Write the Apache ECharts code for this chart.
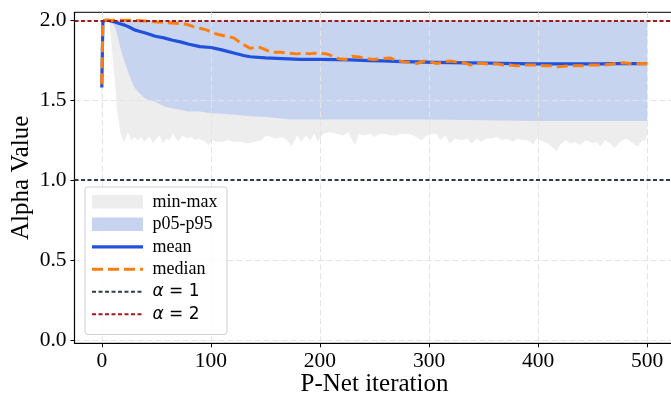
<!DOCTYPE html>
<html>
<head>
<meta charset="utf-8">
<script src="https://cdn.jsdelivr.net/npm/echarts@6/dist/echarts.min.js"></script>
<style>
html,body{margin:0;padding:0;background:#fff;}
#chart{width:671px;height:397px;}
</style>
</head>
<body>
<div id="chart"></div>
<script>
// ---------- data ----------
var minIter = [0,1,4,7,9,12,14,17,20,22,24,27,30,33,36,39,42,44,47,50,53,56,59,62,65,68,70,74,78,82,86,88,92,95,98,101,105,110,115,122,128,134,140,146,151,155,160,165,170,174,179,183,187,191,195,198,203,209,215,221,226,232,236,240,246,250,255,260,265,269,275,281,286,290,293,298,302,307,310,315,319,324,330,335,339,344,348,352,357,362,367,371,377,381,386,390,393,395,399,405,409,414,417,420,425,429,434,438,444,450,453,457,461,466,470,475,481,487,491,496,498,500];
var minVal  = [1.27,1.99,1.99,1.98,1.85,1.62,1.44,1.30,1.24,1.26,1.30,1.25,1.27,1.25,1.27,1.24,1.26,1.27,1.23,1.26,1.28,1.23,1.26,1.25,1.29,1.26,1.24,1.28,1.26,1.27,1.25,1.26,1.25,1.24,1.22,1.25,1.24,1.24,1.25,1.24,1.24,1.23,1.24,1.25,1.28,1.27,1.26,1.27,1.25,1.21,1.28,1.24,1.28,1.25,1.29,1.24,1.29,1.30,1.29,1.28,1.30,1.22,1.29,1.28,1.29,1.27,1.29,1.29,1.28,1.28,1.29,1.29,1.28,1.26,1.25,1.28,1.29,1.29,1.25,1.28,1.23,1.26,1.25,1.26,1.23,1.26,1.24,1.26,1.26,1.27,1.25,1.26,1.24,1.26,1.25,1.25,1.24,1.22,1.26,1.24,1.23,1.20,1.18,1.22,1.25,1.23,1.24,1.22,1.25,1.23,1.24,1.21,1.25,1.23,1.20,1.24,1.26,1.23,1.21,1.25,1.24,1.30];
var maxVal  = [1.90,2.0,2.0,2.0,2.0,2.0,2.0,2.0,2.0,2.0,2.0,2.0,2.0,2.0,2.0,2.0,2.0,2.0,2.0,2.0,2.0,2.0,2.0,2.0,2.0,2.0,2.0,2.0,2.0,2.0,2.0,2.0,2.0,2.0,2.0,2.0,2.0,2.0,2.0,2.0,2.0,2.0,2.0,2.0,2.0,2.0,2.0,2.0,2.0,2.0,2.0,2.0,2.0,2.0,2.0,2.0,2.0,2.0,2.0,2.0,2.0,2.0,2.0,2.0,2.0,2.0,2.0,2.0,2.0,2.0,2.0,2.0,2.0,2.0,2.0,2.0,2.0,2.0,2.0,2.0,2.0,2.0,2.0,2.0,2.0,2.0,2.0,2.0,2.0,2.0,2.0,2.0,2.0,2.0,2.0,2.0,2.0,2.0,2.0,2.0,2.0,2.0,2.0,2.0,2.0,2.0,2.0,2.0,2.0,2.0,2.0,2.0,2.0,2.0,2.0,2.0,2.0,2.0,2.0,2.0,2.0,2.0];

var pIter  = [0,1,6,9,12,15,17,19,21,24,27,30,35,40,44,49,52,58,64,72,79,90,98,110,122,136,150,173,200,246,300,350,400,450,500];
var p05Val = [1.44,1.995,1.995,1.99,1.96,1.89,1.83,1.78,1.74,1.68,1.625,1.58,1.54,1.51,1.50,1.49,1.48,1.46,1.45,1.44,1.43,1.43,1.42,1.415,1.41,1.40,1.395,1.38,1.38,1.38,1.38,1.375,1.37,1.37,1.37];
var p95Val = [1.75,2.0,2.0,2.0,2.0,2.0,2.0,2.0,2.0,2.0,2.0,2.0,2.0,2.0,2.0,2.0,2.0,2.0,2.0,2.0,2.0,2.0,2.0,2.0,2.0,2.0,2.0,2.0,2.0,2.0,2.0,2.0,2.0,2.0,2.0];

var meanIter = [0,1,3,6,9,12,16,21,26,30,35,40,45,49,57,65,72,80,90,100,110,121,130,136,150,166,182,200,215,228,245,258,275,289,305,320,335,350,365,380,395,411,425,441,457,472,486,500];
var meanVal  = [1.58,1.99,2.0,2.0,1.995,1.99,1.98,1.97,1.955,1.94,1.93,1.92,1.91,1.90,1.89,1.875,1.865,1.85,1.835,1.83,1.815,1.795,1.78,1.772,1.765,1.76,1.756,1.755,1.754,1.752,1.748,1.746,1.742,1.74,1.737,1.735,1.734,1.733,1.731,1.729,1.728,1.727,1.727,1.727,1.728,1.729,1.729,1.729];

var medIter = [0,1,3,10,20,30,40,50,60,70,78,84,90,96,102,108,114,121,127,132,136,141,145,152,158,164,170,179,185,190,197,206,212,217,224,230,236,242,249,256,264,270,277,284,289,295,301,307,313,319,325,332,338,344,350,356,362,368,374,380,386,392,398,405,411,417,423,429,435,441,447,454,460,466,472,478,484,490,496,500];
var medVal  = [1.60,1.99,2.0,2.0,2.0,2.0,1.995,1.99,1.985,1.98,1.975,1.96,1.95,1.94,1.92,1.91,1.90,1.89,1.86,1.84,1.825,1.83,1.83,1.81,1.80,1.80,1.795,1.79,1.795,1.79,1.795,1.79,1.775,1.76,1.755,1.775,1.77,1.76,1.755,1.76,1.765,1.75,1.74,1.735,1.73,1.745,1.74,1.73,1.74,1.745,1.74,1.735,1.72,1.73,1.73,1.725,1.728,1.72,1.72,1.715,1.72,1.72,1.72,1.716,1.715,1.71,1.712,1.715,1.715,1.715,1.72,1.72,1.72,1.725,1.73,1.735,1.73,1.728,1.73,1.728];

var alphaRefs = [1, 2];
var legendLabels = ['min-max', 'p05-p95', 'mean', 'median', 'α = 1', 'α = 2'];
var xTicks = [0, 100, 200, 300, 400, 500];
var yTicks = [0.0, 0.5, 1.0, 1.5, 2.0];

// ---------- styles ----------
var C = {
  minmax: '#ededee',
  pband: '#c6d4ef',
  mean: '#1f50de',
  median: '#ff7f0e',
  a1: '#2f3a4c',
  a2: '#a3181c'
};
var SERIF = '"Liberation Serif","Times New Roman",serif';

function bandSeries(name, xs, lo, hi, color) {
  var data = xs.map(function (x, i) { return [x, lo[i], hi[i]]; });
  return {
    type: 'custom',
    name: name,
    z: -1,
    silent: true,
    data: data,
    encode: { x: 0, y: [1, 2] },
    renderItem: function (params, api) {
      if (params.dataIndex !== 0) return null;
      var pts = [];
      for (var i = 0; i < data.length; i++) pts.push(api.coord([data[i][0], data[i][2]]));
      for (var j = data.length - 1; j >= 0; j--) pts.push(api.coord([data[j][0], data[j][1]]));
      return { type: 'polygon', shape: { points: pts }, style: { fill: color, stroke: null } };
    }
  };
}

function lineSeries(name, xs, ys, color, width, type, z) {
  return {
    type: 'line', name: name, z: z, silent: true,
    data: xs.map(function (x, i) { return [x, ys[i]]; }),
    showSymbol: false, symbol: 'none',
    lineStyle: { color: color, width: width, type: type, cap: 'butt', join: 'round' }
  };
}

function refSeries(name, yv, color, z) {
  return {
    type: 'line', name: name, z: z, silent: true, data: [],
    markLine: {
      silent: true, symbol: ['none', 'none'], animation: false,
      label: { show: false },
      lineStyle: { color: color, width: 2, type: [4, 2.5] },
      emphasis: { disabled: true },
      data: [{ yAxis: yv }]
    }
  };
}

// ---------- legend built as graphic ----------
var lx0 = 92, lx1 = 143, tx = 152.5;
var rowY = [201.8, 224.3, 246.8, 269.3, 291.8, 314.3];
var legendEls = [{
  type: 'rect', left: 84.5, top: 186.5, z: 100,
  shape: { width: 142, height: 147.5, r: 3 },
  style: { fill: 'rgba(255,255,255,0.85)', stroke: '#d0d0d0', lineWidth: 1 }
}];
var legendStyles = [
  { kind: 'patch', color: C.minmax },
  { kind: 'patch', color: C.pband },
  { kind: 'line', color: C.mean, width: 3.2, dash: null },
  { kind: 'line', color: C.median, width: 3, dash: [11, 5] },
  { kind: 'line', color: C.a1, width: 2, dash: [4, 2.5] },
  { kind: 'line', color: C.a2, width: 2, dash: [4, 2.5] }
];
legendLabels.forEach(function (lab, i) {
  var s = legendStyles[i], y = rowY[i];
  if (s.kind === 'patch') {
    legendEls.push({ type: 'rect', z: 101, shape: { x: lx0, y: y - 6.7, width: lx1 - lx0, height: 13.4 }, style: { fill: s.color } });
  } else {
    legendEls.push({ type: 'line', z: 101, shape: { x1: lx0, y1: y, x2: lx1, y2: y }, style: { stroke: s.color, lineWidth: s.width, lineDash: s.dash, lineCap: 'butt' } });
  }
  var txt;
  if (lab.indexOf('α') === 0) {
    txt = { type: 'text', z: 101, x: tx, y: y, style: {
      text: '{a|α}{b|' + lab.slice(1) + '}', verticalAlign: 'middle', align: 'left',
      rich: {
        a: { fontFamily: '"DejaVu Sans"', fontStyle: 'italic', fontSize: 17, fill: '#000' },
        b: { fontFamily: '"DejaVu Sans"', fontSize: 17, fill: '#000' }
      }
    } };
  } else {
    txt = { type: 'text', z: 101, x: tx, y: y, style: { text: lab, fontFamily: SERIF, fontSize: 18, fill: '#000', verticalAlign: 'middle', align: 'left' } };
  }
  legendEls.push(txt);
});

var chart = echarts.init(document.getElementById('chart'), null, { renderer: 'canvas' });
chart.setOption({
  animation: false,
  backgroundColor: '#fff',
  grid: { left: 74.5, top: 12.3, width: 600, height: 331, show: true, borderColor: '#000', borderWidth: 1, backgroundColor: 'transparent', containLabel: false, outerBoundsMode: 'none' },
  xAxis: {
    type: 'value', min: -25, max: 525, interval: 100,
    name: 'P-Net iteration', nameLocation: 'middle', nameGap: 29, nameMoveOverlap: false,
    nameTextStyle: { fontFamily: SERIF, fontSize: 25, color: '#000' },
    axisLine: { show: true, onZero: false, lineStyle: { color: '#000', width: 1.2 } },
    axisTick: { show: true, length: 4, lineStyle: { color: '#000' }, customValues: xTicks },
    axisLabel: { fontFamily: SERIF, fontSize: 21.5, color: '#000', margin: 7, customValues: xTicks },
    splitLine: { show: true, lineStyle: { color: '#e4e4e4', width: 1, type: [6, 3] } }
  },
  yAxis: {
    type: 'value', min: -0.02, max: 2.05, interval: 0.5,
    name: 'Alpha Value', nameLocation: 'middle', nameGap: 41, nameMoveOverlap: false,
    nameTextStyle: { fontFamily: SERIF, fontSize: 25, color: '#000' },
    axisLine: { show: true, onZero: false, lineStyle: { color: '#000', width: 1.2 } },
    axisTick: { show: true, length: 4, lineStyle: { color: '#000' }, customValues: yTicks },
    axisLabel: { fontFamily: SERIF, fontSize: 21.5, color: '#000', margin: 8, customValues: yTicks,
      formatter: function (v) { return v.toFixed(1); } },
    splitLine: { show: true, lineStyle: { color: '#e4e4e4', width: 1, type: [6, 3] } }
  },
  series: [
    bandSeries('min-max', minIter, minVal, maxVal, C.minmax),
    bandSeries('p05-p95', pIter, p05Val, p95Val, C.pband),
    lineSeries('mean', meanIter, meanVal, C.mean, 3.2, 'solid', 3),
    lineSeries('median', medIter, medVal, C.median, 3, [11, 5], 4),
    refSeries('α = 1', alphaRefs[0], C.a1, 5),
    refSeries('α = 2', alphaRefs[1], C.a2, 6)
  ],
  graphic: legendEls
});
</script>
</body>
</html>
